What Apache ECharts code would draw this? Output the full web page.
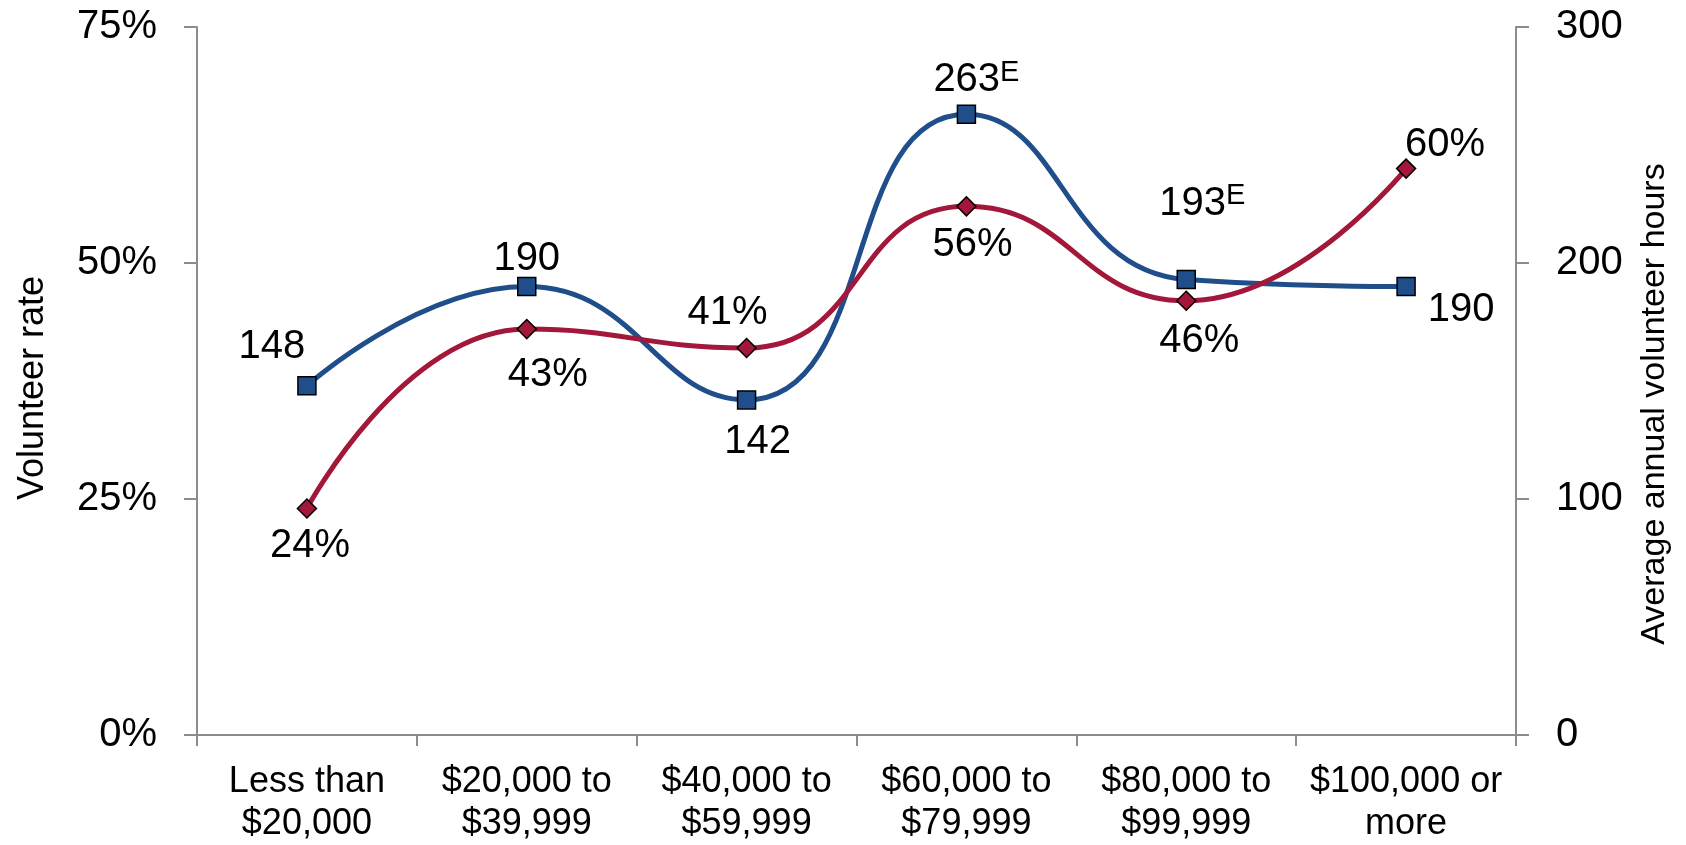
<!DOCTYPE html>
<html>
<head>
<meta charset="utf-8">
<script src="https://cdn.jsdelivr.net/npm/echarts@6/dist/echarts.min.js"></script>
<style>
html,body{margin:0;padding:0;background:#fff;}
#chart{width:1686px;height:845px;}
</style>
</head>
<body>
<div id="chart"></div>
<script>
const categories = ['Less than\n$20,000', '$20,000 to\n$39,999', '$40,000 to\n$59,999', '$60,000 to\n$79,999', '$80,000 to\n$99,999', '$100,000 or\nmore'];
const volunteerRate = [24, 43, 41, 56, 46, 60];
const volunteerHours = [148, 190, 142, 263, 193, 190];
const hoursEstimateFlag = [false, false, false, true, true, false];
const leftTicks = [0, 25, 50, 75];
const rightTicks = [0, 100, 200, 300];

// label placement (style only)
const rateLabelOffsets = [[3, 38], [21, 46], [-19, -35], [6, 39], [13, 40], [39, -24]];
const hoursLabelOffsets = [[-35, -39], [0, -28], [11, 42], [10, -34], [16, -76], [55, 23]];

const FONT = '"Liberation Sans", Arial, sans-serif';
const BLUE = '#1F4E8A';
const RED = '#A3183A';
const AXIS = '#8C8C8C';

const chart = echarts.init(document.getElementById('chart'), null, {renderer: 'canvas'});

const rateData = volunteerRate.map((v, i) => ({
  value: v,
  label: {offset: rateLabelOffsets[i]}
}));
const hoursData = volunteerHours.map((v, i) => ({
  value: v,
  label: {offset: hoursLabelOffsets[i]}
}));

const option = {
  backgroundColor: '#fff',
  animation: false,
  grid: {left: 197, right: 170, top: 27, bottom: 106, containLabel: false},
  xAxis: {
    type: 'category',
    data: categories,
    boundaryGap: true,
    axisLine: {lineStyle: {color: AXIS, width: 2}},
    axisTick: {show: true, length: 11, lineStyle: {color: AXIS, width: 2}, alignWithLabel: false},
    axisLabel: {color: '#000', fontFamily: FONT, fontSize: 36, lineHeight: 42, margin: 26, interval: 0},
    splitLine: {show: false}
  },
  yAxis: [
    {
      type: 'value', min: leftTicks[0], max: leftTicks[leftTicks.length - 1], interval: 25,
      position: 'left',
      name: 'Volunteer rate', nameLocation: 'middle', nameGap: 146, nameRotate: 90,
      nameTextStyle: {color: '#000', fontFamily: FONT, fontSize: 36, padding: [0, 14, 0, 0]},
      axisLine: {show: true, lineStyle: {color: AXIS, width: 2}},
      axisTick: {show: true, length: 13, lineStyle: {color: AXIS, width: 2}},
      axisLabel: {color: '#000', fontFamily: FONT, fontSize: 40, margin: 40, formatter: v => v + '%'},
      splitLine: {show: false}
    },
    {
      type: 'value', min: rightTicks[0], max: rightTicks[rightTicks.length - 1], interval: 100,
      position: 'right',
      name: 'Average annual volunteer hours', nameLocation: 'middle', nameGap: 122, nameRotate: 90,
      nameTextStyle: {color: '#000', fontFamily: FONT, fontSize: 34, padding: [0, 46, 0, 0]},
      axisLine: {show: true, lineStyle: {color: AXIS, width: 2}},
      axisTick: {show: true, length: 13, lineStyle: {color: AXIS, width: 2}},
      axisLabel: {color: '#000', fontFamily: FONT, fontSize: 40, margin: 40},
      splitLine: {show: false}
    }
  ],
  series: [
    {
      name: 'Average annual volunteer hours',
      type: 'line', yAxisIndex: 1, smooth: 0.5, smoothConstraint: false,
      data: hoursData,
      lineStyle: {color: BLUE, width: 5},
      itemStyle: {color: BLUE, borderColor: '#000', borderWidth: 1.5},
      symbol: 'rect', symbolSize: 18,
      label: {
        show: true, position: 'inside', color: '#000', fontFamily: FONT, fontSize: 40,
        formatter: p => hoursEstimateFlag[p.dataIndex] ? '{v|' + p.value + '}{sup|E}' : '{v|' + p.value + '}',
        rich: {
          v: {fontFamily: FONT, fontSize: 40, color: '#000', lineHeight: 44},
          sup: {fontFamily: FONT, fontSize: 29, color: '#000', verticalAlign: 'top', lineHeight: 44, padding: [0, 0, 12, 0]}
        }
      },
      z: 3
    },
    {
      name: 'Volunteer rate',
      type: 'line', yAxisIndex: 0, smooth: 0.5, smoothConstraint: false,
      data: rateData,
      lineStyle: {color: RED, width: 5},
      itemStyle: {color: RED, borderColor: '#000', borderWidth: 1.5},
      symbol: 'diamond', symbolSize: [19, 19],
      label: {
        show: true, position: 'inside', color: '#000', fontFamily: FONT, fontSize: 40,
        formatter: p => p.value + '%'
      },
      z: 4
    }
  ]
};
chart.setOption(option);
</script>
</body>
</html>
